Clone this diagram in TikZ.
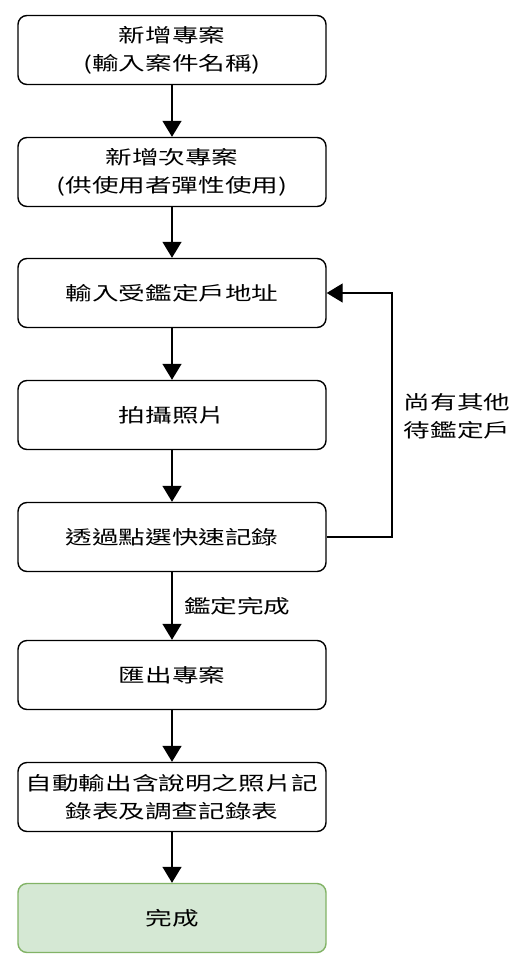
\documentclass[tikz,border=0pt]{standalone}
\usepackage{fontspec}
\newfontfamily\cjk{Noto Sans CJK TC}[FakeStretch=1.4]
\usetikzlibrary{arrows.meta}
\definecolor{donefill}{HTML}{D5E8D4}
\definecolor{doneline}{HTML}{82B366}

\begin{document}
\begin{tikzpicture}[x=1pt,y=-1pt,
    box/.style={draw, rounded corners=9pt, line width=1.4pt, minimum width=308pt,
      minimum height=69pt, align=center, font=\cjk\fontsize{19}{28}\selectfont},
    done/.style={box, draw=doneline, fill=donefill},
    flow/.style={-{Triangle[length=16pt,width=19pt]}, line width=1.4pt},
    lbl/.style={align=left, font=\cjk\fontsize{19}{28}\selectfont}]
    \useasboundingbox (0,0) rectangle (524,969);
    \node[box] (newproj) at (172,50) {新增專案\\(輸入案件名稱)};
    \node[box] (subproj) at (172,172) {新增次專案\\(供使用者彈性使用)};
    \node[box] (addr) at (172,293) {輸入受鑑定戶地址};
    \node[box] (photo) at (172,415) {拍攝照片};
    \node[box] (record) at (172,537) {透過點選快速記錄};
    \node[box] (export) at (172,675) {匯出專案};
    \node[box] (report) at (172,797) {自動輸出含說明之照片記\\錄表及調查記錄表};
    \node[done] (finish) at (172,918) {完成};
    \draw[flow] (newproj) -- (subproj);
    \draw[flow] (subproj) -- (addr);
    \draw[flow] (addr) -- (photo);
    \draw[flow] (photo) -- (record);
    \draw[flow] (record) -- (export) node[midway,right,lbl,xshift=8pt] {鑑定完成};
    \draw[flow] (export) -- (report);
    \draw[flow] (report) -- (finish);
    % loop back for the next household
    \coordinate (loop) at (392,537);
    \draw[flow] (record.east) -- (loop) |- (addr.east);
    \node[lbl] (more) at (457,416) {尚有其他\\待鑑定戶};
\end{tikzpicture}
\end{document}
